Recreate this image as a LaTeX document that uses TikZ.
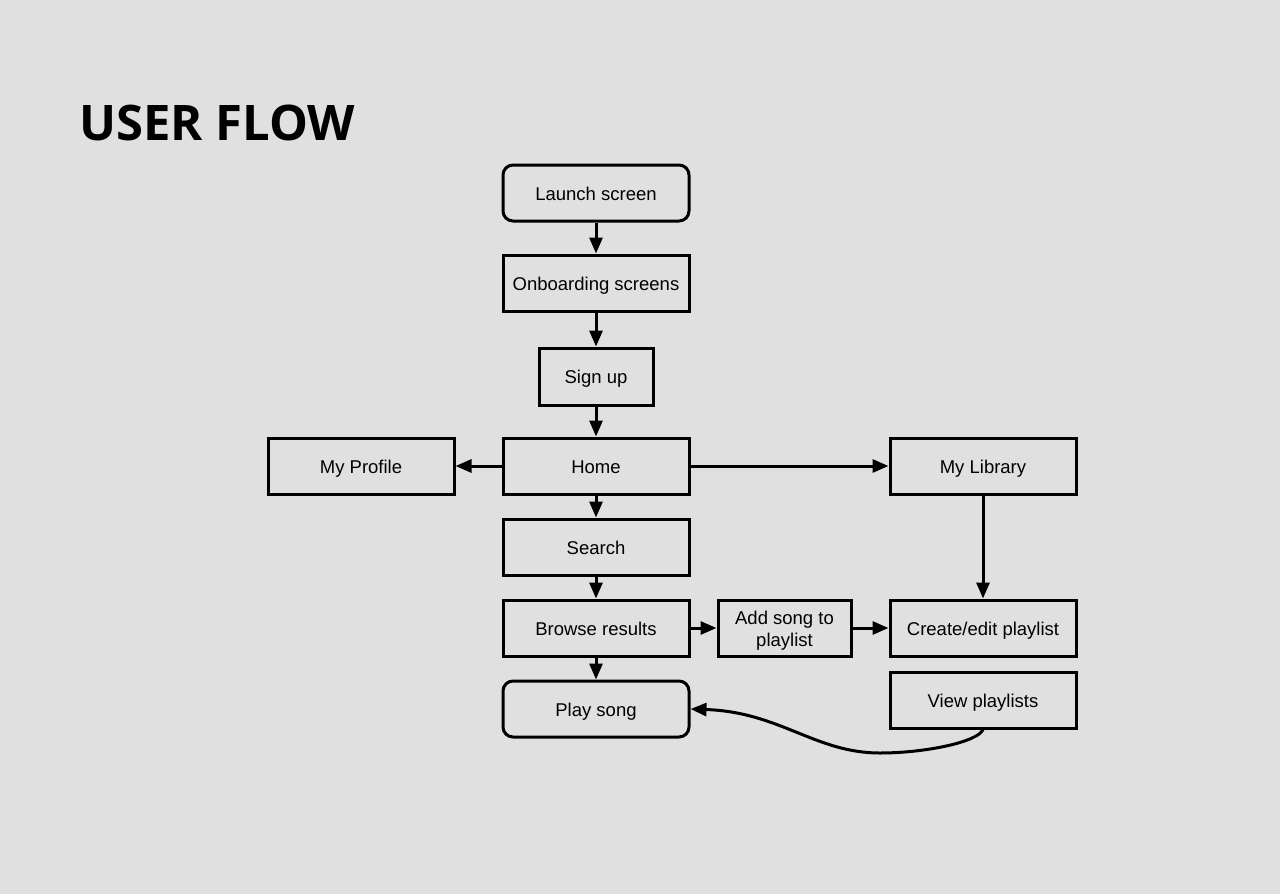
\documentclass[tikz,border=0pt]{standalone}
\usepackage{fontspec}
\setmainfont{Liberation Sans}
\newfontfamily\titlefont{Open Sans}
\usetikzlibrary{arrows.meta}
\definecolor{bg}{HTML}{E0E0E0}
\begin{document}
\begin{tikzpicture}[x=1pt,y=-1pt,
  basebox/.style={draw=black,line width=3pt,minimum width=186pt,minimum height=56pt,inner sep=2pt,font=\fontsize{18.5}{22}\selectfont,align=center},
  box/.style={basebox,text height=14.5pt,text depth=0pt},
  rbox/.style={box,rounded corners=10pt},
  conn/.style={line width=3pt,-{Triangle[length=16pt,width=13pt]}}]
\fill[bg] (0,0) rectangle (1280,894);
\useasboundingbox (0,0) rectangle (1280,894);
\node[anchor=base west,inner sep=0pt,font=\titlefont\bfseries\fontsize{49}{53}\selectfont] (title) at (79,140) {USER FLOW};
\node[rbox] (launch) at (596,193) {Launch screen};
\node[box] (onb) at (596,283) {Onboarding screens};
\node[box,minimum width=114pt,minimum height=57pt] (sign) at (596,376.5) {Sign up};
\node[box] (home) at (596,466) {Home};
\node[box] (prof) at (361,466) {My Profile};
\node[box] (lib) at (983,466) {My Library};
\node[box] (search) at (596,547) {Search};
\node[box] (browse) at (596,628) {Browse results};
\node[basebox,minimum width=133pt] (add) at (784.5,628) {};
\node[basebox,draw=none,minimum width=133pt] (addtext) at (784.5,631) {Add song to\\playlist};
\node[box] (create) at (983,628) {Create/edit playlist};
\node[rbox] (play) at (596,709) {Play song};
\node[box] (view) at (983,700) {View playlists};
\draw[conn] (launch) -- (onb);
\draw[conn] (onb) -- (sign);
\draw[conn] (sign) -- (home);
\draw[conn] (home) -- (prof);
\draw[conn] (home) -- (lib);
\draw[conn] (home) -- (search);
\draw[conn] (search) -- (browse);
\draw[conn] (browse) -- (play);
\draw[conn] (browse) -- (add);
\draw[conn] (add) -- (create);
\draw[conn] (lib) -- (create);
\draw[conn] (view.south) .. controls (978,742) and (925,753) .. (880,753) .. controls (815,753) and (780,712) .. (play.east);
\end{tikzpicture}
\end{document}
